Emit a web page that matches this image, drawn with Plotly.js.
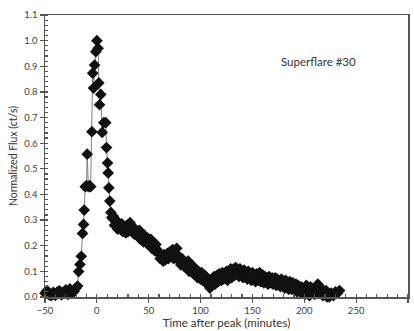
<!DOCTYPE html>
<html>
<head>
<meta charset="utf-8">
<script src="https://cdn.plot.ly/plotly-3.0.1.min.js"></script>
<style>html,body{margin:0;padding:0;background:#fff;}#chart{width:414px;height:331px;}</style>
</head>
<body>
<div id="chart"></div>
<script>
// Time after peak (minutes)
const timeMin = [
  -50,-48,-46,-44,-42,-40,-38,-36,-34,-32,-30,-28,-26,-24,-22,-20,
  -18.6,-17.6,-16.3,-15,-13.8,-12.8,-12.2,-11.2,-10,-9.3,-8.2,-7,-6,-4.8,-4,-3.2,-2.2,-1,0,
  1.2,1.9,2.6,3.8,5.1,6.7,8.6,9.3,10.3,10.9,11.6,12.5,13.5,14.5,15.5,
  16,17,18,20,21,22,24,25,26,28,29,30,32,33,34,36,37,38,40,41,42,44,45,46,48,49,50,
  52,53,54,56,57,58,60,61,62,64,65,66,68,69,70,72,73,74,76,77,78,80,81,82,84,85,86,88,89,90,
  92,93,94,96,97,98,100,101,102,104,105,106,108,109,110,112,113,114,116,117,118,120,121,122,
  124,125,126,128,129,130,132,133,134,136,137,138,140,141,142,144,145,146,148,149,150,
  152,153,154,156,157,158,160,161,162,164,165,166,168,169,170,172,173,174,176,177,178,
  180,181,182,184,185,186,188,189,190,192,193,194,196,197,198,200,201,202,204,205,206,
  208,209,210,212,213,214,216,217,218,220,221,222,224,225,226,228,230,232,234
];
// Normalized flux (ct/s)
const normFlux = [
  0.015,0.025,0.008,0.005,0.018,0.006,0.02,0.024,0.008,0.016,0.028,0.01,0.032,0.014,0.022,0.035,
  0.043,0.099,0.127,0.159,0.248,0.283,0.339,0.43,0.435,0.557,0.43,0.435,0.43,0.645,0.873,0.815,0.905,0.957,1.0,
  0.97,0.835,0.75,0.79,0.642,0.68,0.68,0.583,0.523,0.484,0.426,0.374,0.33,0.31,0.305,
  0.315,0.28,0.30,0.265,0.29,0.27,0.285,0.255,0.275,0.25,0.28,0.255,0.29,0.26,0.275,0.245,0.265,0.25,0.235,0.26,0.225,0.245,0.215,0.24,0.21,0.23,0.205,
  0.225,0.19,0.215,0.18,0.205,0.185,0.17,0.15,0.165,0.14,0.165,0.145,0.17,0.15,0.175,0.16,0.185,0.15,0.17,0.19,0.145,0.155,0.125,0.15,0.12,0.135,0.115,0.14,0.1,0.125,
  0.095,0.12,0.09,0.105,0.075,0.1,0.07,0.095,0.065,0.085,0.055,0.075,0.045,0.035,0.065,0.055,0.08,0.05,0.085,0.06,0.09,0.065,0.095,0.07,
  0.08,0.1,0.065,0.095,0.11,0.075,0.11,0.085,0.115,0.09,0.08,0.11,0.085,0.075,0.105,0.08,0.07,0.1,0.075,0.065,0.095,
  0.07,0.06,0.09,0.065,0.095,0.06,0.085,0.055,0.08,0.075,0.05,0.08,0.055,0.075,0.05,0.075,0.045,0.07,0.06,0.04,0.07,
  0.05,0.035,0.065,0.045,0.03,0.06,0.03,0.055,0.035,0.05,0.02,0.045,0.02,0.04,0.015,0.035,0.01,0.045,0.02,0.005,0.04,
  0.015,0.03,0.01,0.025,0.05,0.045,0.015,0.03,0.005,0.01,0.025,0.0,0.0,0.01,0.015,0.005,0.02,0.015,0.025
];
const labelText = "Superflare #30";

const trace = {
  x: timeMin, y: normFlux, type: 'scatter', mode: 'lines+markers',
  line: {color: '#808080', width: 1},
  marker: {symbol: 'diamond', size: 9, color: '#111'},
  cliponaxis: false, showlegend: false, hoverinfo: 'skip'
};
const font = {family: 'Lato, "Open Sans", sans-serif', color: '#404040'};
const layout = {
  width: 414, height: 331,
  margin: {l: 45, r: 6, t: 15, b: 34},
  paper_bgcolor: '#fff', plot_bgcolor: '#fff',
  font: font,
  xaxis: {
    range: [-50, 300], dtick: 50, tick0: 0, showgrid: false, zeroline: false,
    showline: true, linecolor: '#555', linewidth: 1.5, mirror: true,
    ticks: 'outside', ticklen: 4, tickcolor: '#555', tickwidth: 1.2,
    minor: {dtick: 10, ticks: 'inside', ticklen: 3, tickcolor: '#555', showgrid: false},
    tickfont: {size: 9.5, color: '#404040'},
    title: {text: 'Time after peak (minutes)', font: {size: 11.5, color: '#333'}, standoff: 4}
  },
  yaxis: {
    range: [0, 1.1], dtick: 0.1, tick0: 0, tickformat: '.1f', showgrid: false, zeroline: false,
    showline: true, linecolor: '#555', linewidth: 1.5, mirror: true,
    ticks: 'outside', ticklen: 4, tickcolor: '#555', tickwidth: 1.2,
    minor: {dtick: 0.02, ticks: 'inside', ticklen: 3, tickcolor: '#555', showgrid: false},
    tickfont: {size: 9.5, color: '#404040'},
    title: {text: 'Normalized Flux (ct/s)', font: {size: 10.5, color: '#333'}, standoff: 4}
  },
  annotations: [{
    x: 213.5, y: 0.917, xref: 'x', yref: 'y', text: labelText, showarrow: false,
    font: {size: 11.5, color: '#333'}
  }]
};
Plotly.newPlot('chart', [trace], layout, {displayModeBar: false, staticPlot: true});
</script>
</body>
</html>
